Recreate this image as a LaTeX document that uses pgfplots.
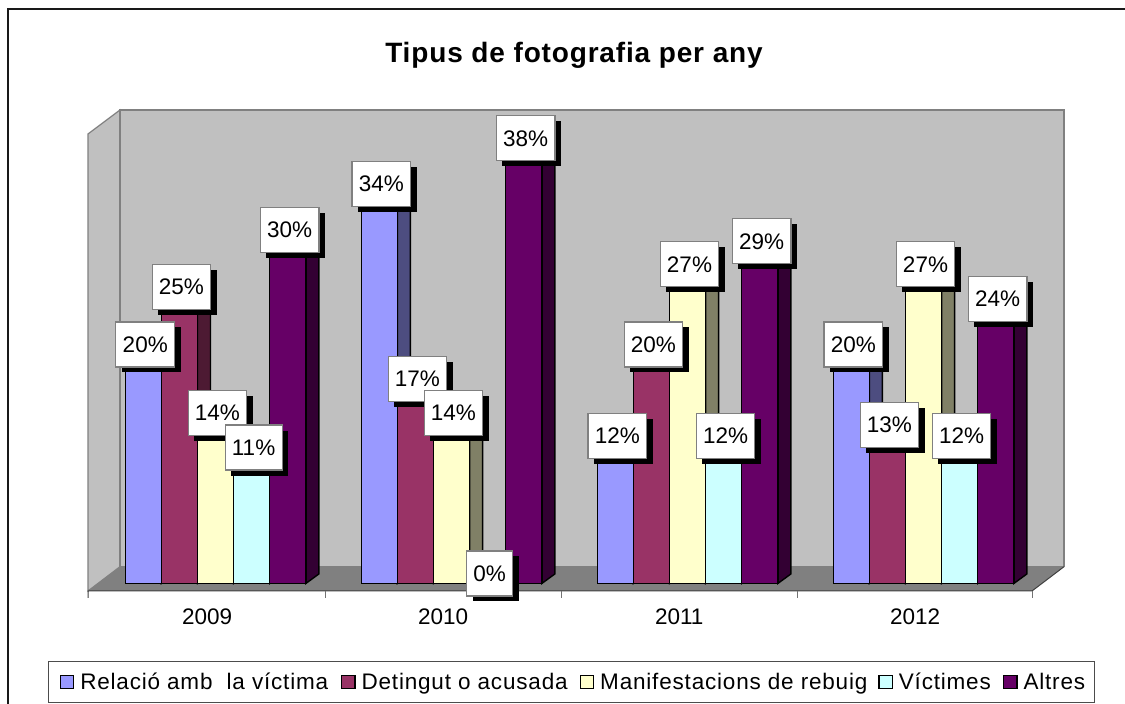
\documentclass[border=0pt]{standalone}
\usepackage{fontspec}
\usepackage{pgfplots}
\pgfplotsset{compat=1.18}
\usetikzlibrary{shadows}
\setmainfont{Liberation Sans}
\newfontfamily\lgfont[LetterSpace=3.6]{Liberation Sans}
\newfontfamily\ttlfont[LetterSpace=3]{Liberation Sans Bold}
\definecolor{f1}{HTML}{9999FF}\definecolor{s1}{HTML}{4D4D80}
\definecolor{f2}{HTML}{993366}\definecolor{s2}{HTML}{4D1A33}
\definecolor{f3}{HTML}{FFFFCC}\definecolor{s3}{HTML}{808066}
\definecolor{f4}{HTML}{CCFFFF}\definecolor{s4}{HTML}{668080}
\definecolor{f5}{HTML}{660066}\definecolor{s5}{HTML}{330033}
\definecolor{wall}{HTML}{C0C0C0}
\definecolor{floorc}{HTML}{808080}
% group g, series s, value v, series colour number
\newcommand\threedbar[4]{%
  \pgfmathsetmacro\xa{#1+(-81.2+36.1*#2)/236}%
  \pgfmathsetmacro\xb{\xa+36.1/236}%
  \pgfmathsetmacro\xc{\xb+13/236}%
  \pgfmathsetmacro\xd{\xa+13/236}%
  \pgfmathsetmacro\yt{#3+0.83}%
  \addplot[forget plot,fill=s#4,draw=black,line width=1.4pt] coordinates {(\xb,0)(\xc,0.83)(\xc,\yt)(\xb,#3)} --cycle;
  \addplot[forget plot,fill=f#4,draw=black,line width=1.4pt] coordinates {(\xa,#3)(\xd,\yt)(\xc,\yt)(\xb,#3)} --cycle;
  \addplot[forget plot,fill=f#4,draw=black,line width=1.4pt] coordinates {(\xa,0)(\xa,#3)(\xb,#3)(\xb,0)} --cycle;
}
\pgfplotsset{
  lgsq/.style={legend image code/.code={%
    \path[draw=none,fill=none] (0,-7pt) rectangle (20pt,7pt);
    \draw[fill=#1,draw=black,line width=1.3pt] (0,-6.5pt) rectangle (13.5pt,6.5pt);}},
  lab/.style={forget plot,draw=none,mark=none,point meta=y,
    nodes near coords={\pgfmathprintnumber[fixed,precision=0,assume math mode=true]{\pgfplotspointmeta}\%},
    nodes near coords align={anchor=center},
    every node near coord/.style={anchor=center,xshift=2pt,yshift=10pt,
      fill=white,draw=floorc,line width=1.1pt,text=black,
      inner xsep=6.8pt,inner ysep=0pt,minimum height=45pt,
      font=\fontsize{22.5}{27}\selectfont,
      general shadow={shadow xshift=6pt,shadow yshift=-5.5pt,fill=black}}},
}
\begin{document}
\begin{tikzpicture}
\useasboundingbox (0,0) rectangle (1125pt,704pt);
\begin{scope}[x=1pt,y=-1pt,yshift=704pt]
  \draw[line width=2pt,color=black!90] (8,704) -- (8,9) -- (1125,9);
  \draw[fill=wall,draw=floorc,line width=1.2pt] (88,134) -- (120,110) -- (120,566.7) -- (88,591) -- cycle;
  \draw[fill=wall,draw=floorc,line width=1.2pt] (120,110) rectangle (1064,566.7);
  \fill[floorc] (88,591) -- (120,566.7) -- (1064,566.7) -- (1032,591) -- cycle;
  \draw[line width=1pt,color=black!75] (88,598) -- (88,591) -- (1032,591) -- (1064,566.7);
  \foreach \t in {325,561,797,1032} \draw[line width=1pt,color=black!55] (\t,591) -- (\t,598);
  \node[font=\ttlfont\fontsize{28}{32}\selectfont,text=black] at (574,55) {Tipus de fotografia per any};
\end{scope}
\begin{axis}[
  at={(0,0)},anchor=south west,scale only axis,
  width=1125pt,height=704pt,
  xmin=-0.875,xmax=3.8919,ymin=-10.524,ymax=50.96,
  clip=false,
  axis line style={draw=none},
  ytick=\empty,
  xtick={0,1,2,3},xticklabels={2009,2010,2011,2012},
  major tick length=0pt,
  xticklabel style={anchor=center,xshift=0.7pt,yshift=87.3pt,font=\fontsize{22.5}{27}\selectfont},
  legend columns=5,
  legend cell align=left,
  legend style={at={(48pt,1.2pt)},anchor=south west,
    draw=black!70,line width=1.2pt,fill=white,
    inner xsep=11pt,inner ysep=11.3pt,
    column sep=0pt,
    nodes={inner sep=0pt,anchor=west},
    font=\lgfont\fontsize{22.5}{27}\selectfont},
]
\addlegendimage{lgsq=f1}\addlegendentry{\makebox[260.7pt][l]{Relació amb\ \ la víctima}}
\addlegendimage{lgsq=f2}\addlegendentry{\makebox[218pt][l]{Detingut o acusada}}
\addlegendimage{lgsq=f3}\addlegendentry{\makebox[278pt][l]{Manifestacions de rebuig}}
\addlegendimage{lgsq=f4}\addlegendentry{\makebox[104pt][l]{Víctimes}}
\addlegendimage{lgsq=f5}\addlegendentry{\makebox[60pt][l]{Altres}}
% series 1: Relacio
\threedbar{0}{0}{20}{1}\threedbar{1}{0}{34}{1}\threedbar{2}{0}{12}{1}\threedbar{3}{0}{20}{1}
% series 2: Detingut
\threedbar{0}{1}{25}{2}\threedbar{1}{1}{17}{2}\threedbar{2}{1}{20}{2}\threedbar{3}{1}{13}{2}
% series 3: Manifestacions
\threedbar{0}{2}{14}{3}\threedbar{1}{2}{14}{3}\threedbar{2}{2}{27}{3}\threedbar{3}{2}{27}{3}
% series 4: Victimes
\threedbar{0}{3}{11}{4}\threedbar{1}{3}{0}{4}\threedbar{2}{3}{12}{4}\threedbar{3}{3}{12}{4}
% series 5: Altres
\threedbar{0}{4}{30}{5}\threedbar{1}{4}{38}{5}\threedbar{2}{4}{29}{5}\threedbar{3}{4}{24}{5}
% value labels
\addplot[lab] coordinates {(-0.268,20)(0.732,34)(1.732,12)(2.732,20)};
\addplot[lab] coordinates {(-0.115,25)(0.885,17)(1.885,20)(2.885,13)};
\addplot[lab] coordinates {(0.038,14)(1.038,14)(2.038,27)(3.038,27)};
\addplot[lab] coordinates {(0.191,11)(1.191,0)(2.191,12)(3.191,12)};
\addplot[lab] coordinates {(0.344,30)(1.344,38)(2.344,29)(3.344,24)};
\end{axis}
\end{tikzpicture}
\end{document}
